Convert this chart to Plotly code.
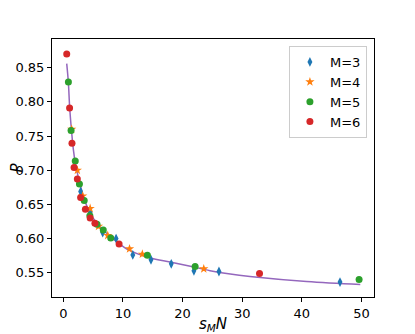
import plotly.graph_objects as go

# M=3 (blue diamonds)
x_m3 = [2.9, 4.5, 6.6, 8.85, 11.65, 14.7, 18.1, 21.9, 26.1, 46.4]
y_m3 = [0.6687, 0.6386, 0.6088, 0.600, 0.576, 0.569, 0.563, 0.5528, 0.5518, 0.5363]
e_m3 = [0.004] * len(x_m3)

# M=4 (orange stars)
x_m4 = [1.4, 2.35, 3.25, 4.5, 5.9, 7.45, 11.1, 13.25, 23.55]
y_m4 = [0.760, 0.700, 0.6624, 0.644, 0.618, 0.6045, 0.585, 0.5772, 0.5557]
e_m4 = [0.003] * len(x_m4)

# M=5 (green circles)
x_m5 = [0.85, 1.3, 2.0, 2.7, 3.5, 4.45, 5.65, 6.7, 7.95, 14.1, 22.1, 49.6]
y_m5 = [0.829, 0.758, 0.7136, 0.680, 0.6556, 0.6335, 0.621, 0.6125, 0.601, 0.5757, 0.559, 0.540]
e_m5 = [0.002] * len(x_m5)

# M=6 (red circles)
x_m6 = [0.57, 1.05, 1.45, 1.8, 2.35, 2.9, 3.7, 4.5, 5.3, 9.35, 32.9]
y_m6 = [0.870, 0.791, 0.7395, 0.704, 0.687, 0.660, 0.643, 0.630, 0.6225, 0.592, 0.549]
e_m6 = [0.002] * len(x_m6)

# fitted curve
x_fit = [0.57, 0.84, 1.07, 1.4, 1.7, 2.0, 2.5, 3.0, 3.5, 4.5, 5.5, 6.7, 8.0, 9.0,
         11.0, 14.5, 17.9, 21.3, 24.6, 28.0, 31.3, 40.8, 49.8]
y_fit = [0.856, 0.829, 0.791, 0.755, 0.729, 0.711, 0.690, 0.673, 0.658, 0.637, 0.624,
         0.6125, 0.602, 0.595, 0.583, 0.5718, 0.5656, 0.5595, 0.553, 0.548, 0.5445,
         0.5371, 0.5328]

series = [
    ("M=3", x_m3, y_m3, e_m3, "#1f77b4", "diamond-tall", 7),
    ("M=4", x_m4, y_m4, e_m4, "#ff7f0e", "star", 7),
    ("M=5", x_m5, y_m5, e_m5, "#2ca02c", "circle", 7),
    ("M=6", x_m6, y_m6, e_m6, "#d62728", "circle", 7),
]

fig = go.Figure()
fig.add_trace(go.Scatter(x=x_fit, y=y_fit, mode="lines", line=dict(color="#9467bd", width=1.5, shape="spline"),
                         showlegend=False, hoverinfo="skip"))
for name, xs, ys, es, col, sym, sz in series:
    fig.add_trace(go.Scatter(
        x=xs, y=ys, mode="markers", name=name,
        marker=dict(color=col, symbol=sym, size=sz, line=dict(width=0)),
        error_y=dict(type="data", array=es, color=col, thickness=1.5, width=0),
    ))

axis_style = dict(showline=True, linecolor="black", linewidth=1, mirror=True,
                  ticks="outside", ticklen=4, tickcolor="black", showgrid=False,
                  zeroline=False, automargin=False, tickfont=dict(size=13, color="black"))
fig.update_xaxes(range=[-1.9, 52.1], tickvals=[0, 10, 20, 30, 40, 50],
                 title=dict(text="<i>s</i><sub><i>M</i></sub><i>N</i>", font=dict(size=15, color="black"), standoff=2),
                 **axis_style)
fig.update_yaxes(range=[0.5145, 0.892], tickvals=[0.55, 0.60, 0.65, 0.70, 0.75, 0.80, 0.85], tickformat=".2f",
                 title=dict(text="<i>P</i>", font=dict(size=15, color="black"), standoff=2),
                 **axis_style)
# the page body adds an 8px offset, so the figure is drawn 8px smaller
fig.update_layout(
    width=407, height=326,
    margin=dict(l=44, r=41, t=31, b=37),
    plot_bgcolor="white", paper_bgcolor="white",
    font=dict(family="DejaVu Sans", color="black"),
    legend=dict(x=0.978, y=0.973, xanchor="right", yanchor="top",
                bgcolor="rgba(255,255,255,0.8)", bordercolor="#cccccc", borderwidth=1,
                font=dict(size=13), tracegroupgap=0),
)

fig.write_html("out.html")
